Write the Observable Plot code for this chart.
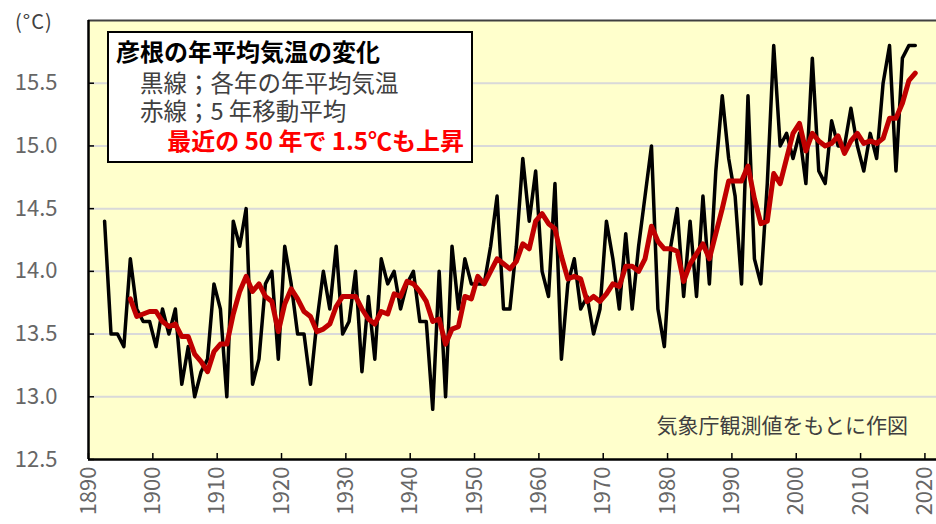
<!DOCTYPE html>
<html><head><meta charset="utf-8">
<script src="https://cdn.jsdelivr.net/npm/d3@7"></script>
<script src="https://cdn.jsdelivr.net/npm/@observablehq/plot@0.6"></script>
<style>
body{margin:0;background:#fff;font-family:"Noto Sans CJK JP",sans-serif;}
#wrap{position:relative;width:936px;height:524px;overflow:hidden;}
#over{position:absolute;left:0;top:0;pointer-events:none;}
</style></head>
<body>
<div id="wrap">
<div id="chart"></div>
<svg id="over" width="936" height="524" font-family="Noto Sans CJK JP, sans-serif">
  <rect x="108" y="32" width="364" height="130" fill="#fff" stroke="#000" stroke-width="2"/>
  <text x="116" y="61" font-size="24" font-weight="bold" fill="#000">彦根の年平均気温の変化</text>
  <text x="140" y="92" font-size="23.5" fill="#404040">黒線；各年の年平均気温</text>
  <text x="140" y="120" font-size="23.5" fill="#404040">赤線；5 年移動平均</text>
  <text x="464" y="150" font-size="24" font-weight="bold" fill="#FF0000" text-anchor="end">最近の 50 年で 1.5℃も上昇</text>
  <text x="15" y="29" font-size="20" fill="#404040" letter-spacing="1">(°C)</text>
  <text x="908" y="433" font-size="21" fill="#404040" text-anchor="end">気象庁観測値をもとに作図</text>
</svg>
</div>
<script>
// Data: annual mean temperature at Hikone (°C)
const firstYear = 1892;
const temps = [
  14.4,13.5,13.5,13.4,14.1,13.7,13.6,13.6,13.4,            // 1892-1900
  13.7,13.5,13.7,13.1,13.4,13.0,13.2,13.3,13.9,13.7,       // 1901-1910
  13.0,14.4,14.2,14.5,13.1,13.3,13.9,14.0,13.3,14.2,       // 1911-1920
  13.9,13.5,13.5,13.1,13.6,14.0,13.7,14.2,13.5,13.6,       // 1921-1930
  14.0,13.2,13.8,13.3,14.1,13.9,14.0,13.7,13.9,14.0,       // 1931-1940
  13.6,13.6,12.9,14.0,13.0,14.2,13.7,14.1,13.9,13.9,       // 1941-1950
  13.9,14.2,14.6,13.7,13.7,14.2,14.9,14.4,14.8,14.0,       // 1951-1960
  13.8,14.7,13.3,13.9,14.1,13.7,13.8,13.5,13.7,14.4,       // 1961-1970
  14.1,13.7,14.3,13.7,14.2,14.6,15.0,13.7,13.4,14.2,       // 1971-1980
  14.5,13.8,14.4,13.8,14.6,13.9,14.8,15.4,14.9,14.6,       // 1981-1990
  13.9,15.4,14.1,13.9,14.7,15.8,15.0,15.1,14.9,15.1,       // 1991-2000
  14.7,15.7,14.8,14.7,15.2,15.0,15.0,15.3,15.0,14.8,       // 2001-2010
  15.1,14.9,15.5,15.8,14.8,15.7,15.8,15.8                  // 2011-2018
];
const xTicks = [1890,1900,1910,1920,1930,1940,1950,1960,1970,1980,1990,2000,2010,2020];
const yTicks = [12.5,13.0,13.5,14.0,14.5,15.0,15.5];
const xDomain = [1890, 2021.8];
const yDomain = [12.5, 16.0];
const windowSize = 5;

const data = temps.map((t, i) => ({year: firstYear + i, temp: t}));
const xMid = d => d.year + 0.5; // annual values plotted at mid-year

const chart = Plot.plot({
  width: 936, height: 524,
  marginLeft: 88, marginRight: 0, marginTop: 20, marginBottom: 65,
  style: {background: "transparent", fontFamily: "Noto Sans CJK JP, sans-serif"},
  x: {domain: xDomain},
  y: {domain: yDomain},
  marks: [
    Plot.frame({fill: "#FFFFCC", stroke: null}),
    Plot.ruleY(yTicks.slice(1), {stroke: "#D9D9D9", strokeWidth: 2}),
    Plot.ruleY([yDomain[1]], {stroke: "#404040", strokeWidth: 2}),
    Plot.lineY(data, {x: xMid, y: "temp", stroke: "#000", strokeWidth: 3.5, strokeLinejoin: "round"}),
    Plot.lineY(data, Plot.windowY({k: windowSize, anchor: "end", reduce: "mean", strict: true},
      {x: xMid, y: "temp", stroke: "#C00000", strokeWidth: 5, strokeLinejoin: "round"})),
    // tick marks (inside)
    Plot.axisX({ticks: xTicks, tickSize: 6, dy: -6, tickFormat: () => "", label: null, stroke: "#000", strokeWidth: 1.5}),
    Plot.axisY({ticks: yTicks, tickSize: 6, dx: 6, tickFormat: () => "", label: null, stroke: "#000", strokeWidth: 1.5}),
    // tick labels
    Plot.axisX({ticks: xTicks, tickSize: 0, tickPadding: 7, tickRotate: -90, fontSize: 22, fill: "#666", label: null, tickFormat: d => String(d)}),
    Plot.axisY({ticks: yTicks, tickSize: 0, tickPadding: 31, fontSize: 22, fill: "#666", label: null, tickFormat: d3.format(".1f")}),
    // axis lines
    Plot.ruleX([xDomain[0]], {stroke: "#000", strokeWidth: 2.5}),
    Plot.ruleY([yDomain[0]], {stroke: "#000", strokeWidth: 2.5})
  ]
});
document.getElementById("chart").appendChild(chart);
</script>
</body></html>
